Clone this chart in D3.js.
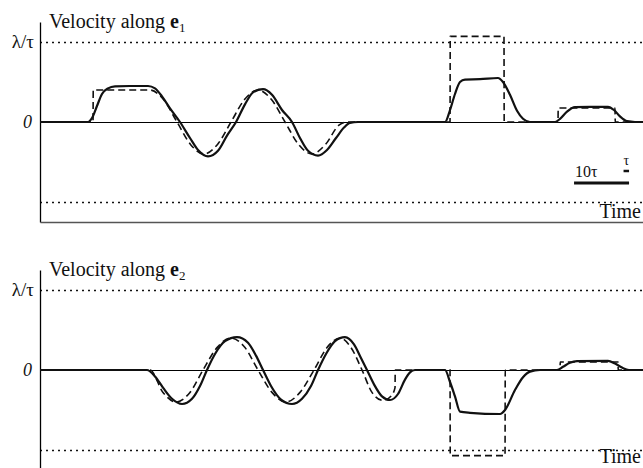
<!DOCTYPE html>
<html>
<head>
<meta charset="utf-8">
<script src="https://cdn.jsdelivr.net/npm/d3@7/dist/d3.min.js"></script>
<style>
  html, body { margin: 0; padding: 0; background: #fff; }
  svg { display: block; }
  text { font-family: "Liberation Serif", "Times New Roman", Times, "DejaVu Serif", serif; fill: #111; }
</style>
</head>
<body>
<script>
// ---- Data (time in units of tau, velocity in units of lambda/tau) ----
const cmd1 = [[0,0],[9.64,0],[9.68,0.4],[20.0,0.4],[22.45,0.28],[24.91,0],[27.36,-0.28],[29.82,-0.4],
  [32.27,-0.28],[34.73,0],[37.18,0.28],[39.64,0.4],[42.09,0.28],[44.55,0],[47.0,-0.28],[49.45,-0.4],
  [51.91,-0.28],[54.36,-0.04],[56.0,0],[74.55,0],[74.59,1.07],[84.36,1.07],[84.4,0],[94.18,0],
  [94.22,0.175],[104.55,0.175],[104.59,0],[110,0]];
const resp1 = [[0,0],[8.73,0],[9.45,0.05],[10.36,0.2],[11.27,0.35],[12.36,0.42],[13.64,0.445],[16.36,0.45],
  [19.64,0.45],[20.91,0.42],[22.18,0.32],[23.64,0.17],[25.45,0],[27.27,-0.2],[28.73,-0.35],[30.55,-0.43],
  [32.36,-0.36],[34.0,-0.17],[35.64,0],[37.27,0.22],[38.73,0.37],[40.55,0.41],[42.18,0.34],[44.0,0.15],
  [45.82,0],[47.27,-0.2],[48.73,-0.36],[50.55,-0.42],[52.18,-0.35],[53.82,-0.2],[55.27,-0.07],[56.36,-0.01],
  [57.82,0],[73.64,0],[74.55,0.15],[75.45,0.35],[76.36,0.5],[77.27,0.53],[80.0,0.535],[83.27,0.55],
  [84.18,0.5],[85.45,0.34],[86.73,0.14],[87.82,0.04],[89.09,0],[93.64,0],[94.55,0.04],[95.82,0.13],
  [97.27,0.185],[100.0,0.19],[103.27,0.19],[104.36,0.15],[105.45,0.07],[106.73,0.01],[108.18,0],[110,0]];
const cmd2 = [[0,0],[20.0,0],[22.36,-0.28],[24.73,-0.4],[27.27,-0.28],[29.64,0],[32.18,0.28],[34.73,0.4],
  [37.27,0.28],[39.64,0],[42.18,-0.28],[44.73,-0.4],[47.27,-0.28],[49.82,0],[52.18,0.28],[54.55,0.4],
  [56.55,0.28],[58.55,0],[60.36,-0.28],[62.36,-0.38],[63.9,-0.32],[64.55,-0.22],[64.59,0],[74.55,0],
  [74.59,-1.07],[84.55,-1.07],[84.59,0],[94.55,0],[94.59,0.1],[105.09,0.1],[105.13,0],[110,0]];
const resp2 = [[0,0],[19.45,0],[20.91,-0.08],[22.36,-0.22],[24.0,-0.36],[25.82,-0.425],[27.64,-0.36],
  [29.09,-0.2],[30.36,0],[31.82,0.2],[33.64,0.36],[35.82,0.41],[37.82,0.34],[39.27,0.18],[40.55,0],
  [42.0,-0.2],[43.82,-0.37],[45.82,-0.425],[47.64,-0.36],[49.27,-0.2],[50.55,0],[52.0,0.2],[53.64,0.36],
  [55.45,0.41],[57.09,0.32],[58.36,0.15],[59.45,0],[60.73,-0.18],[62.18,-0.33],[63.64,-0.375],[65.09,-0.3],
  [66.36,-0.12],[67.27,-0.03],[68.18,0],[73.64,0],[74.55,-0.15],[75.45,-0.33],[76.36,-0.52],[78.18,-0.535],
  [83.64,-0.55],[84.55,-0.5],[86.36,-0.25],[87.82,-0.09],[89.09,-0.02],[90.91,0],[94.0,0],[95.09,0.04],
  [96.36,0.09],[97.64,0.11],[103.27,0.115],[104.55,0.08],[105.82,0.03],[107.09,0],[110,0]];
const refLevels = [1, -1];          // ±lambda/tau dotted lines
const yLabels = ["\u03bb/\u03c4", "0"];
const panelTitles = [["Velocity along ", "e", "1"], ["Velocity along ", "e", "2"]];
const scaleBar = { end: 107.1, long: 10, short: 1, longLabel: "10\u03c4", shortLabel: "\u03c4" };

// ---- Drawing ----
const W = 643, H = 468;
const svg = d3.select("body").append("svg").attr("width", W).attr("height", H);
svg.append("rect").attr("width", W).attr("height", H).attr("fill", "#fff");

const x = d3.scaleLinear().domain([0, 110]).range([40, 645]);
const panels = [
  { y: d3.scaleLinear().domain([-1.25, 1.25]).range([222, 22]), cmd: cmd1, resp: resp1, title: panelTitles[0], bar: true, timeDy: 96 },
  { y: d3.scaleLinear().domain([-1.25, 1.25]).range([470, 270]), cmd: cmd2, resp: resp2, title: panelTitles[1], bar: false, timeDy: 93 }
];

panels.forEach(p => {
  const g = svg.append("g");
  const y = p.y;
  // dotted reference lines
  refLevels.forEach(v => {
    g.append("line").attr("x1", x(0)).attr("x2", W).attr("y1", y(v) + 0.5).attr("y2", y(v) + 0.5)
      .attr("stroke", "#111").attr("stroke-width", 1.3).attr("stroke-dasharray", "2,4");
  });
  // zero line
  g.append("line").attr("x1", x(0)).attr("x2", W).attr("y1", y(0) + 0.5).attr("y2", y(0) + 0.5)
    .attr("stroke", "#000").attr("stroke-width", 1);
  // axes
  const ax = g.append("g").attr("transform", `translate(${x(0)},0)`)
    .call(d3.axisLeft(y).tickValues([]).tickSizeOuter(0));
  ax.select(".domain").attr("stroke", "#000").attr("stroke-width", 1.3);
  const bx = g.append("g").attr("transform", `translate(0,${y(-1.25)})`)
    .call(d3.axisBottom(x).tickValues([]).tickSizeOuter(0));
  bx.select(".domain").attr("stroke", "#555").attr("stroke-width", 1.6);

  const line = d3.line().x(d => x(d[0])).y(d => y(d[1])).curve(d3.curveMonotoneX);
  g.append("path").attr("d", line(p.cmd)).attr("fill", "none").attr("stroke", "#111")
    .attr("stroke-width", 1.6).attr("stroke-dasharray", "7,4");
  g.append("path").attr("d", line(p.resp)).attr("fill", "none").attr("stroke", "#111")
    .attr("stroke-width", 2.2).attr("stroke-linejoin", "round");

  // labels
  g.append("text").attr("x", 34).attr("y", y(1) + 6).attr("text-anchor", "end")
    .attr("font-size", 19).text(yLabels[0]);
  g.append("text").attr("x", 32).attr("y", y(0) + 6).attr("text-anchor", "end")
    .attr("font-size", 18).attr("font-style", "italic").text(yLabels[1]);
  const t = g.append("text").attr("x", 49).attr("y", y(0) - 94).attr("font-size", 20);
  t.append("tspan").text(p.title[0]);
  t.append("tspan").attr("font-weight", "bold").text(p.title[1]);
  t.append("tspan").attr("font-size", 13).attr("dy", 4).text(p.title[2]);
  g.append("text").attr("x", 641).attr("y", y(0) + p.timeDy).attr("text-anchor", "end")
    .attr("font-size", 20).text("Time");

  if (p.bar) {
    const yb = y(0) + 61;
    g.append("line").attr("x1", x(scaleBar.end - scaleBar.long)).attr("x2", x(scaleBar.end))
      .attr("y1", yb).attr("y2", yb).attr("stroke", "#111").attr("stroke-width", 3);
    g.append("line").attr("x1", x(scaleBar.end - scaleBar.short)).attr("x2", x(scaleBar.end))
      .attr("y1", yb - 12).attr("y2", yb - 12).attr("stroke", "#111").attr("stroke-width", 2.5);
    g.append("text").attr("x", x(scaleBar.end - scaleBar.long) + 1).attr("y", yb - 6)
      .attr("font-size", 16).text(scaleBar.longLabel);
    g.append("text").attr("x", x(scaleBar.end - scaleBar.short / 2)).attr("y", yb - 18)
      .attr("text-anchor", "middle").attr("font-size", 14).text(scaleBar.shortLabel);
  }
});
</script>
</body>
</html>
